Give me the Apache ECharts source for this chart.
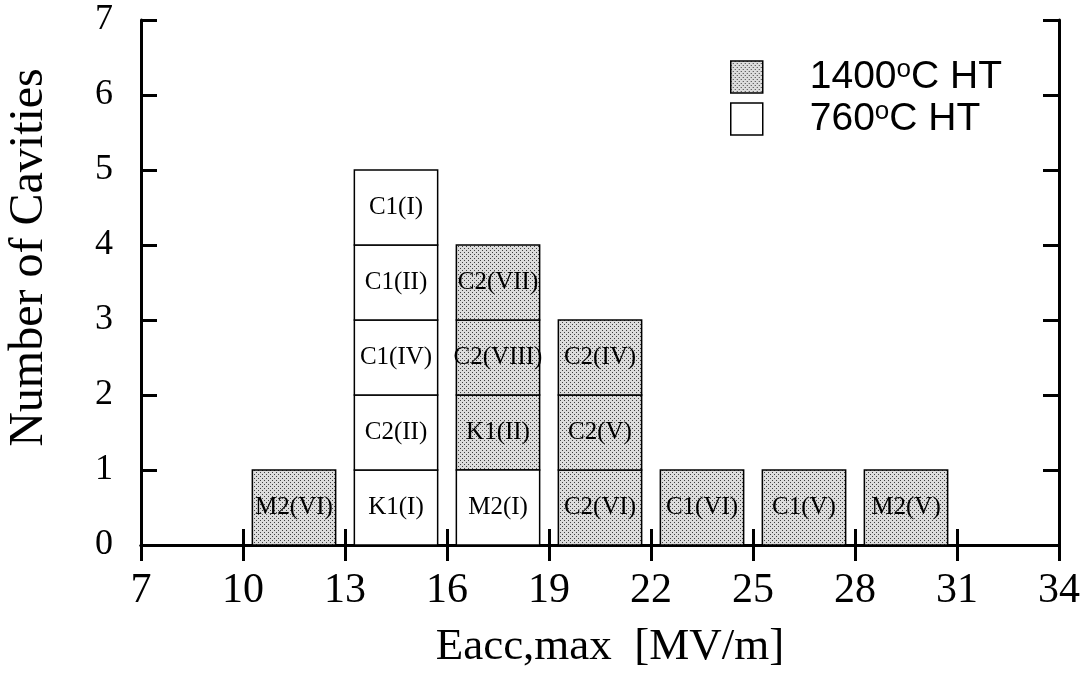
<!DOCTYPE html>
<html>
<head>
<meta charset="utf-8">
<script src="https://cdn.jsdelivr.net/npm/echarts@6/dist/echarts.min.js"></script>
<style>
  html, body { margin: 0; padding: 0; background: #fff; }
  #chart { width: 1088px; height: 679px; }
</style>
</head>
<body>
<div id="chart"></div>
<script>
// bin centres on the Eacc axis, and the cavities stacked in each bin (bottom -> top)
const binCenters = [11.5, 14.5, 17.5, 20.5, 23.5, 26.5, 29.5]
const cellLabels = [
  ['M2(VI)'],
  ['K1(I)', 'C2(II)', 'C1(IV)', 'C1(II)', 'C1(I)'],
  ['M2(I)', 'K1(II)', 'C2(VIII)', 'C2(VII)'],
  ['C2(VI)', 'C2(V)', 'C2(IV)'],
  ['C1(VI)'],
  ['C1(V)'],
  ['M2(V)']
]
// heat treatment of each cavity, same layout as cellLabels
const cellHT = [
  [1400],
  [760, 760, 760, 760, 760],
  [760, 1400, 1400, 1400],
  [1400, 1400, 1400],
  [1400],
  [1400],
  [1400]
]
const xTicks = { min: 7, max: 34, interval: 3 }
const yTicks = { min: 0, max: 7, interval: 1 }
const binWidth = 2.45

// dotted grey fill like the printed screen
function dotPattern() {
  const c = document.createElement('canvas')
  c.width = 4
  c.height = 4
  const ctx = c.getContext('2d')
  ctx.fillStyle = '#dcdcdc'
  ctx.fillRect(0, 0, 4, 4)
  ctx.fillStyle = '#404040'
  ctx.fillRect(0, 0, 1, 1)
  ctx.fillRect(2, 2, 1, 1)
  return c
}

function cellsFor(ht) {
  const out = []
  binCenters.forEach((x, i) => {
    cellLabels[i].forEach((name, k) => {
      if (cellHT[i][k] === ht) out.push([x, k, name])
    })
  })
  return out
}

function renderCell(params, api) {
  const x = api.value(0)
  const lvl = api.value(1)
  const p0 = api.coord([x - binWidth / 2, lvl + 1])
  const p1 = api.coord([x + binWidth / 2, lvl])
  const style = api.style()
  return {
    type: 'group',
    children: [{
      type: 'rect',
      shape: { x: p0[0], y: p0[1], width: p1[0] - p0[0], height: p1[1] - p0[1] },
      style: { fill: style.fill, stroke: '#000', lineWidth: 1.5 }
    }, {
      type: 'text',
      x: (p0[0] + p1[0]) / 2,
      y: (p0[1] + p1[1]) / 2,
      style: {
        text: cellLabels[binCenters.indexOf(x)][lvl],
        fill: '#000',
        font: '25px "Liberation Serif"',
        align: 'center',
        verticalAlign: 'middle'
      }
    }]
  }
}

const chart = echarts.init(document.getElementById('chart'))
const pattern = { image: dotPattern(), repeat: 'repeat' }

const axisLine = { show: true, lineStyle: { color: '#000', width: 3 } }
const tick = { show: true, inside: true, length: 16, lineStyle: { color: '#000', width: 3 } }

const option = {
  animation: false,
  backgroundColor: '#fff',
  grid: { left: 141, right: 29, top: 20, bottom: 134, outerBoundsMode: 'none', containLabel: false },
  legend: {
    orient: 'vertical',
    left: 725,
    top: 52,
    itemWidth: 32,
    itemHeight: 32,
    itemGap: 2,
    icon: 'rect',
    itemStyle: { borderColor: '#000', borderWidth: 1.5 },
    textStyle: {
      color: '#000',
      fontFamily: 'Liberation Sans',
      fontSize: 39,
      lineHeight: 40,
      padding: [0, 0, 0, 42],
      rich: {
        n: { fontFamily: 'Liberation Sans', fontSize: 39, lineHeight: 40, color: '#000' },
        sup: { fontFamily: 'Liberation Sans', fontSize: 26, lineHeight: 22, verticalAlign: 'top', color: '#000' }
      }
    },
    formatter: function (name) {
      const t = name.split('C')[0]
      return '{n|' + t + '}{sup|o}{n|C HT}'
    },
    data: ['1400C HT', '760C HT']
  },
  xAxis: [{
    type: 'value',
    position: 'bottom',
    min: xTicks.min,
    max: xTicks.max,
    interval: xTicks.interval,
    axisLine: axisLine,
    axisTick: tick,
    splitLine: { show: false },
    axisLabel: { color: '#000', fontFamily: 'Liberation Serif', fontSize: 42, margin: 25 },
    name: 'Eacc,max  [MV/m]',
    nameLocation: 'middle',
    nameGap: 80,
    nameTextStyle: { color: '#000', fontFamily: 'Liberation Serif', fontSize: 45, padding: [0, 0, 0, 20] }
  }, {
    type: 'value',
    position: 'top',
    min: xTicks.min,
    max: xTicks.max,
    interval: xTicks.interval,
    axisLine: axisLine,
    axisTick: tick,
    splitLine: { show: false },
    axisLabel: { show: false }
  }],
  yAxis: [{
    type: 'value',
    position: 'left',
    min: yTicks.min,
    max: yTicks.max,
    interval: yTicks.interval,
    axisLine: axisLine,
    axisTick: tick,
    splitLine: { show: false },
    axisLabel: { color: '#000', fontFamily: 'Liberation Serif', fontSize: 36, margin: 28 },
    name: 'Number of Cavities',
    nameLocation: 'middle',
    nameGap: 88,
    nameTextStyle: { color: '#000', fontFamily: 'Liberation Serif', fontSize: 48, padding: [0, 0, 0, 50] }
  }, {
    type: 'value',
    position: 'right',
    min: yTicks.min,
    max: yTicks.max,
    interval: yTicks.interval,
    axisLine: axisLine,
    axisTick: tick,
    splitLine: { show: false },
    axisLabel: { show: false }
  }],
  series: [{
    name: '1400C HT',
    type: 'custom',
    renderItem: renderCell,
    itemStyle: { color: pattern },
    encode: { x: 0, y: 1 },
    data: cellsFor(1400),
    z: 3
  }, {
    name: '760C HT',
    type: 'custom',
    renderItem: renderCell,
    itemStyle: { color: '#fff' },
    encode: { x: 0, y: 1 },
    data: cellsFor(760),
    z: 3
  }]
}

chart.setOption(option)
</script>
</body>
</html>
